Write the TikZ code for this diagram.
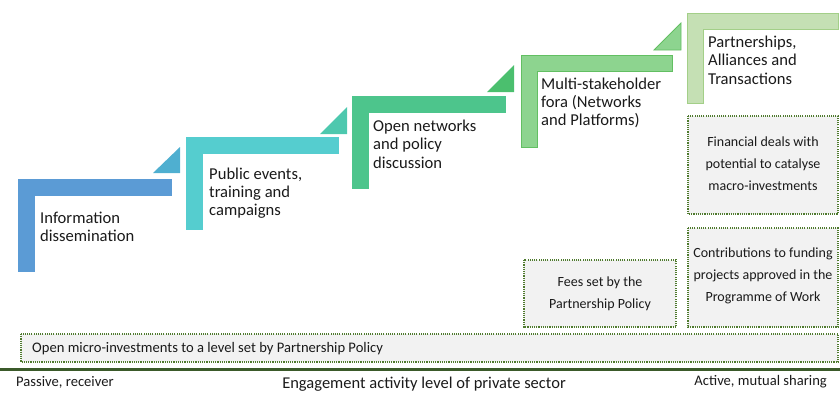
\documentclass[tikz,border=0pt]{standalone}
\usepackage{fontspec}
\setmainfont{Carlito}
\definecolor{sA}{HTML}{5B9BD5}
\definecolor{tA}{HTML}{4FAFD0}
\definecolor{sB}{HTML}{55CDCF}
\definecolor{tB}{HTML}{4DC8AE}
\definecolor{sC}{HTML}{4DC58C}
\definecolor{tC}{HTML}{4BBF6E}
\definecolor{sD}{HTML}{8DD48F}
\definecolor{bD}{HTML}{62BF62}
\definecolor{sE}{HTML}{C5E0B4}
\definecolor{bE}{HTML}{A3CF88}
\definecolor{dotc}{HTML}{4F7A2E}
\definecolor{boxf}{HTML}{F2F2F2}
\definecolor{axisc}{HTML}{3B5A2A}
\definecolor{txt}{HTML}{1A1A1A}
\begin{document}
\begin{tikzpicture}[x=1pt,y=-1pt,
  steptext/.style={anchor=west,align=left,inner sep=0pt,text=txt,font=\fontsize{16.6}{18.3}\selectfont},
  dotbox/.style={draw=dotc,fill=boxf,line width=1.1pt,dash pattern=on 1.1pt off 1.1pt},
  boxtext/.style={align=center,inner sep=0pt,text=txt,font=\fontsize{14}{22}\selectfont},
  labeltext/.style={inner sep=0pt,text=txt,font=\fontsize{14.6}{16}\selectfont}]
\useasboundingbox (0,0) rectangle (840,392);
% step shapes
\newcommand{\stepL}[6]{% L,T,R,B,fill,draw
  \filldraw[fill=#5,draw=#6,line width=0.8pt] (#1,#2) -- (#3,#2) -- (#3,#2+16) -- (#1+16,#2+16) -- (#1+16,#4) -- (#1,#4) -- cycle;}
\stepL{18}{179}{171}{271}{sA}{sA}
\fill[tA] (153,173) -- (180,173) -- (180,147) -- cycle;
\stepL{186}{137}{338}{229}{sB}{sB}
\fill[tB] (320,134) -- (347,134) -- (347,107) -- cycle;
\stepL{352}{96}{505}{188}{sC}{sC}
\fill[tC] (487,92) -- (514,92) -- (514,65) -- cycle;
\stepL{521}{55}{672}{147}{sD}{bD}
\filldraw[fill=sD,draw=bD,line width=0.8pt] (654,50) -- (681,50) -- (681,23) -- cycle;
\stepL{687}{13}{838}{103}{sE}{bE}
% step texts
\node[steptext] (s1) at (40,227) {Information\\dissemination};
\node[steptext] (s2) at (209,193) {Public events,\\training and\\campaigns};
\node[steptext] (s3) at (373,144) {Open networks\\and policy\\discussion};
\node[steptext] (s4) at (541,103) {Multi-stakeholder\\fora (Networks\\and Platforms)};
\node[steptext] (s5) at (708,60) {Partnerships,\\Alliances and\\Transactions};
% dotted boxes
\draw[dotbox] (688,116) rectangle (838,214);
\node[boxtext] (b1) at (763,164) {Financial deals with\\potential to catalyse\\macro-investments};
\draw[dotbox] (688,228) rectangle (838,327);
\node[boxtext] (b2) at (763,276) {Contributions to funding\\projects approved in the\\Programme of Work};
\draw[dotbox] (524,260) rectangle (676,327);
\node[boxtext] (b3) at (600,294) {Fees set by the\\Partnership Policy};
\draw[dotbox] (21,334) rectangle (838,362);
\node[labeltext,anchor=west] (b4) at (32,349) {Open micro-investments to a level set by Partnership Policy};
% axis
\coordinate (axl) at (0,369);
\coordinate (axr) at (840,369);
\draw[axisc,line width=3pt] (axl) -- (axr);
\node[labeltext,anchor=west] (pl) at (16,382) {Passive, receiver};
\node[labeltext,anchor=east] (pr) at (827,382) {Active, mutual sharing};
\node[inner sep=0pt,text=txt,font=\fontsize{16.5}{18}\selectfont] (ax) at (424,384) {Engagement activity level of private sector};
\end{tikzpicture}
\end{document}
